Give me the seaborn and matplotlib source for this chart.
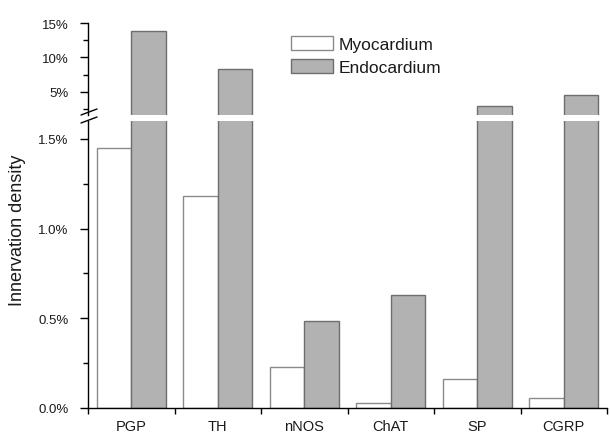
import numpy as np
import pandas as pd
import seaborn as sns
import matplotlib.pyplot as plt
import matplotlib.ticker as mtick
from matplotlib.lines import Line2D
from matplotlib.patches import Patch

markers = ["PGP", "TH", "nNOS", "ChAT", "SP", "CGRP"]
regions = ["Myocardium", "Endocardium"]
myocardium = [1.45, 1.18, 0.23, 0.03, 0.16, 0.055]
endocardium = [13.8, 8.3, 0.485, 0.63, 3.0, 4.6]

fills = {"Myocardium": "white", "Endocardium": "#b2b2b2"}
edges = {"Myocardium": "#8a8a8a", "Endocardium": "#6e6e6e"}

sns.set_style("ticks")
plt.rcParams["font.family"] = ["Liberation Sans", "DejaVu Sans"]


def main():
    df = pd.DataFrame(
        {
            "marker": markers * 2,
            "region": [regions[0]] * len(markers) + [regions[1]] * len(markers),
            "density": myocardium + endocardium,
        }
    )

    fig = plt.figure(figsize=(6.1, 4.35), dpi=100)
    ax_top = fig.add_axes([0.1443, 0.7333, 0.8508, 0.2115])
    ax_bot = fig.add_axes([0.1443, 0.0598, 0.8508, 0.6598])

    for ax in [ax_top, ax_bot]:
        sns.barplot(
            data=df,
            x="marker",
            y="density",
            hue="region",
            hue_order=regions,
            order=markers,
            palette=fills,
            edgecolor="#707070",
            linewidth=1,
            legend=False,
            ax=ax,
        )
        for patch, reg in zip(ax.patches, np.repeat(regions, len(markers))):
            patch.set_edgecolor(edges[reg])
        ax.set_xlabel("")
        ax.set_ylabel("")
        ax.set_xlim(-0.5, len(markers) - 0.5)
        ax.tick_params(axis="y", which="major", length=5.5, width=1, pad=8.5,
                       labelsize=9.5, color="black", labelcolor="#1a1a1a")
        ax.tick_params(axis="y", which="minor", length=3.5, width=1, color="black")
        for s in ax.spines.values():
            s.set_linewidth(1)
            s.set_color("black")
    sns.despine(ax=ax_top, bottom=True)
    sns.despine(ax=ax_bot)

    # upper part of the broken axis
    ax_top.set_ylim(1.65, 15)
    ax_top.yaxis.set_major_locator(mtick.FixedLocator([5, 10, 15]))
    ax_top.yaxis.set_minor_locator(mtick.MultipleLocator(2.5))
    ax_top.yaxis.set_major_formatter(mtick.FuncFormatter(lambda v, p: f"{v:.0f}%"))
    ax_top.set_xticks([])

    # lower part
    ax_bot.set_ylim(0, 1.6)
    ax_bot.yaxis.set_major_locator(mtick.FixedLocator([0, 0.5, 1.0, 1.5]))
    ax_bot.yaxis.set_minor_locator(mtick.MultipleLocator(0.25))
    ax_bot.yaxis.set_major_formatter(mtick.FuncFormatter(lambda v, p: f"{v:.1f}%"))
    ax_bot.set_xticks(range(len(markers)))
    ax_bot.set_xticklabels(markers)
    ax_bot.set_xticks(np.arange(-0.5, len(markers), 1), minor=True)
    ax_bot.tick_params(axis="x", which="major", length=0, pad=8, labelsize=10.5,
                       labelcolor="#1a1a1a")
    ax_bot.tick_params(axis="x", which="minor", length=4, width=1, color="black")

    # break marks on the y axis
    W, H = 610, 435
    for y0 in [116, 124]:
        fig.add_artist(Line2D([81 / W, 97 / W], [1 - y0 / H, 1 - (y0 - 6) / H],
                              color="black", lw=1))

    fig.text(18 / W, 1 - 230 / H, "Innervation density", rotation=90,
             ha="center", va="center", fontsize=13, color="#1a1a1a")

    handles = [Patch(facecolor=fills[r], edgecolor=edges[r], lw=1) for r in regions]
    fig.legend(handles, regions, loc="upper left",
               bbox_to_anchor=(291 / W, 1 - 37 / H), frameon=False,
               fontsize=12.5, handlelength=2.4, handleheight=0.9,
               handletextpad=0.35, labelspacing=0.38, borderpad=0,
               borderaxespad=0, labelcolor="#1a1a1a")

    fig.savefig("out.png", dpi=100)


if __name__ == "__main__":
    main()
